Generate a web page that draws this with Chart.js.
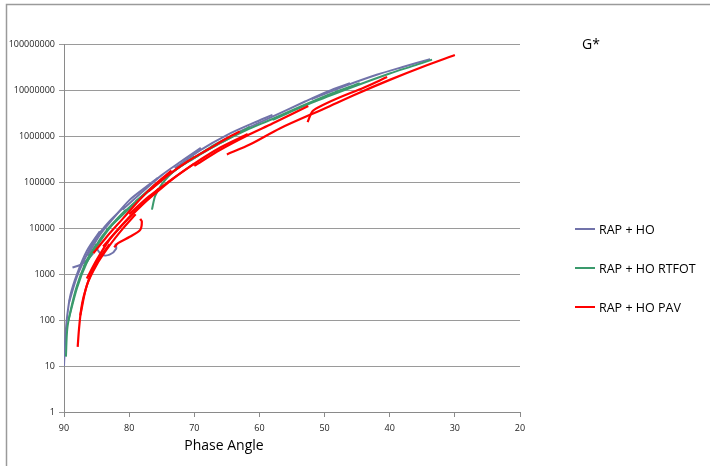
<!DOCTYPE html>
<html>
<head>
<meta charset="utf-8">
<script src="https://cdn.jsdelivr.net/npm/chart.js@4.4.0/dist/chart.umd.min.js"></script>
<style>
  html, body { margin: 0; padding: 0; background: #fff; }
  #wrap { width: 710px; height: 466px; position: relative; }
</style>
</head>
<body>
<div id="wrap"><canvas id="c" width="710" height="466"></canvas></div>
<script>
// ---- Data: [phase angle (deg), G* ] per isotherm segment ----
const seriesNames = ["RAP + HO", "RAP + HO RTFOT", "RAP + HO PAV"];
const xTicks = [90, 80, 70, 60, 50, 40, 30, 20];
const yTicks = [1, 10, 100, 1000, 10000, 100000, 1000000, 10000000, 100000000];

const rapHo = [
  [[90,10],[89.8,40],[89.5,126],[89,355],[88,1000],[86.5,3160],[84.5,8500]],
  [[89.2,250],[88,890],[86.5,2630],[85,6300],[83,14100],[80.6,30200]],
  [[86.4,2500],[84.5,7100],[82.5,15800],[80,39800],[77.8,70800],[75.6,123000]],
  [[81,25100],[78,60300],[75,141000],[72,282000],[69,550000]],
  [[73,200000],[69,501000],[65,1050000],[61,1900000],[58,2880000]],
  [[63,1260000],[58,2630000],[53,5620000],[49.5,9330000],[46.1,14100000]],
  [[52,6310000],[47,12000000],[42,21400000],[38,31600000],[33.8,46800000]],
  [[88.7,1380],[87.5,1580],[86.5,2000],[85.5,2820]],
  [[85.2,3980],[84.2,2630],[83,2630],[82,3550],[82.1,4570]]
];

const rapHoRtfot = [
  [[89.7,16],[89.5,63],[89,158],[88,562],[86.5,2000],[85,4470]],
  [[89.3,100],[88,500],[86.5,1780],[84.5,5620],[82.5,12600],[80.5,25100]],
  [[87,1410],[85,3980],[83,10000],[80.5,24000],[78,50100],[76,89100]],
  [[83.5,8910],[80.5,22400],[78,47900],[75.5,95500],[72.5,200000],[70,355000]],
  [[79,38000],[76,83200],[73,178000],[69,417000],[65,832000],[61.5,1580000]],
  [[70,331000],[66,708000],[62,1350000],[58,2340000],[54,4170000],[49,8320000],[44.6,14100000]],
  [[58,2240000],[52,5250000],[46,11200000],[40,22900000],[36,34700000],[33.5,45700000]],
  [[76.5,25100],[76,50100],[75,89100],[73,178000],[70,331000],[67,631000],[64,1050000]]
];

const rapHoPav = [
  [[87.9,26],[87.7,63],[87.4,158],[87,316],[86,890],[84.5,2240],[83,4470]],
  [[87.5,126],[86.5,562],[85,1580],[83,4170],[81,9550],[79,20000]],
  [[86.5,794],[85,2000],[83,5620],[80.5,14100],[78,31600],[75.5,70800]],
  [[84,3980],[81.5,10000],[79,24000],[76,56200],[73,126000],[70,251000]],
  [[80,20000],[77,47900],[74,100000],[70,251000],[66,562000],[61.8,1100000]],
  [[70,224000],[66,501000],[62,1000000],[58,1860000],[55,3020000],[52.5,4470000]],
  [[52.6,2000000],[51.9,3390000],[51,4170000],[48,6610000],[44,11200000],[40.4,19100000]],
  [[65,398000],[61.4,661000],[56.8,1480000],[50,3980000],[45,8320000],[40,16600000],[35,31600000],[30,57500000]],
  [[82.3,3800],[81.7,4680],[79.9,6460],[78.3,9120],[78.05,13800],[78.3,15800]],
  [[85.5,2820],[83.5,6310],[81,15800],[78.5,39800],[76,89100],[73.5,178000]],
  [[77,63100],[74,141000],[71,282000],[68,501000],[65,891000],[63,1260000]]
];

const colors = ["#7173aa", "#3a9a6c", "#ff0000"];
const widths = [2, 2, 2.2];
const drawOrder = [2, 1, 0];
const groups = [rapHo, rapHoRtfot, rapHoPav];

const datasets = [];
groups.forEach((segs, si) => {
  segs.forEach(seg => {
    datasets.push({
      label: seriesNames[si],
      data: seg.map(p => ({x: p[0], y: p[1]})),
      borderColor: colors[si],
      backgroundColor: colors[si],
      borderWidth: widths[si],
      order: drawOrder[si],
      showLine: true,
      pointRadius: 0,
      tension: 0.3,
      fill: false
    });
  });
});

const FONT = "'Open Sans', 'Liberation Sans', sans-serif";

const decor = {
  id: 'decor',
  beforeDraw(chart) {
    const ctx = chart.ctx;
    ctx.save();
    ctx.strokeStyle = '#9a9a9a';
    ctx.lineWidth = 1.5;
    ctx.beginPath();
    ctx.moveTo(6.5, 466);
    ctx.lineTo(6.5, 4.5);
    ctx.lineTo(710, 4.5);
    ctx.stroke();
    ctx.restore();
  },
  afterDraw(chart) {
    const ctx = chart.ctx;
    ctx.save();
    ctx.fillStyle = '#000';
    ctx.textBaseline = 'middle';
    ctx.textAlign = 'left';
    ctx.font = "14px " + FONT;
    ctx.fillText('G*', 582, 45);
    ctx.textAlign = 'center';
    ctx.fillText('Phase Angle', 224, 446);
    ctx.textAlign = 'left';
    ctx.font = "12.5px " + FONT;
    const ys = [229, 268, 307];
    seriesNames.forEach((n, i) => {
      ctx.strokeStyle = colors[i];
      ctx.lineWidth = 2;
      ctx.beginPath();
      ctx.moveTo(575, ys[i]);
      ctx.lineTo(595, ys[i]);
      ctx.stroke();
      ctx.fillStyle = '#000';
      ctx.fillText(n, 599, ys[i] + 1);
    });
    ctx.restore();
  }
};

new Chart(document.getElementById('c'), {
  type: 'scatter',
  data: { datasets },
  plugins: [decor],
  options: {
    responsive: false,
    animation: false,
    layout: { padding: { top: 44, right: 190, left: 0, bottom: 0 } },
    plugins: { legend: { display: false }, tooltip: { enabled: false }, title: { display: false } },
    scales: {
      x: {
        type: 'linear',
        reverse: true,
        min: 20,
        max: 90,
        afterBuildTicks(scale) { scale.ticks = xTicks.map(v => ({value: v})); },
        afterFit(scale) { scale.height = 54; },
        border: { display: true, color: '#8a8a8a', width: 1 },
        grid: { drawOnChartArea: false, drawTicks: true, tickLength: 5, color: '#8a8a8a' },
        ticks: { color: '#222', font: { family: FONT, size: 9 }, padding: 6, maxRotation: 0 }
      },
      y: {
        type: 'logarithmic',
        min: 1,
        max: 100000000,
        afterBuildTicks(scale) { scale.ticks = yTicks.map(v => ({value: v})); },
        afterFit(scale) { scale.width = 64; },
        border: { display: true, color: '#8a8a8a', width: 1 },
        grid: { color: '#9a9a9a', lineWidth: 1, drawTicks: true, tickLength: 5 },
        ticks: {
          color: '#222',
          font: { family: FONT, size: 9 },
          padding: 4,
          callback: v => String(Math.round(v))
        }
      }
    }
  }
});
</script>
</body>
</html>
